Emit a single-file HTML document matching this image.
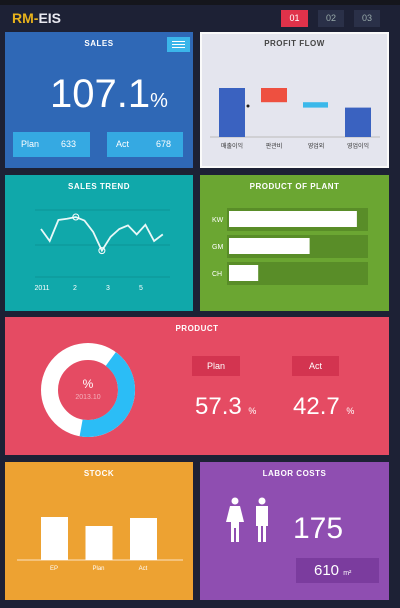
<!DOCTYPE html>
<html><head><meta charset="utf-8"><style>
*{margin:0;padding:0;box-sizing:border-box}
body{width:400px;height:608px;background:#1d2135;font-family:"Liberation Sans","Noto Sans CJK KR",sans-serif;position:relative;overflow:hidden;color:#fff}
.a{position:absolute}
.p{position:absolute}
.t{position:absolute;left:0;right:0;text-align:center;font-size:8px;font-weight:bold;top:7px;letter-spacing:0.5px}
</style></head><body>
<div class="a" style="left:0;top:0;width:400px;height:5px;background:#15161c"></div>
<div class="a" style="left:12px;top:10px;font-size:14px;font-weight:bold;color:#e8e8f0"><span style="color:#e8b21c">RM-</span>EIS</div>
<div class="a" style="left:281px;top:10px;width:27px;height:17px;background:#e0324a;font-size:9px;text-align:center;line-height:17px">01</div>
<div class="a" style="left:318px;top:10px;width:26px;height:17px;background:#2a3048;color:#9aa;font-size:9px;text-align:center;line-height:17px">02</div>
<div class="a" style="left:354px;top:10px;width:26px;height:17px;background:#2a3048;color:#9aa;font-size:9px;text-align:center;line-height:17px">03</div>

<div class="p" style="left:5px;top:32px;width:188px;height:136px;background:#2f68b6">
<div class="t">SALES</div>
<div class="a" style="left:162px;top:5px;width:23px;height:15px;background:#3bb6ea"><div style="margin:4px 5px;border-top:1px solid #fff;border-bottom:1px solid #fff;height:7px"><div style="border-top:1px solid #fff;margin-top:2px"></div></div></div>
<div class="a" style="left:45px;top:40px;font-size:40px;line-height:44px">107.1<span style="font-size:20px">%</span></div>
<div class="a" style="left:8px;top:100px;width:77px;height:25px;background:#35a9e2;font-size:9px;line-height:25px;padding-left:8px">Plan<span style="margin-left:22px">633</span></div>
<div class="a" style="left:102px;top:100px;width:76px;height:25px;background:#35a9e2;font-size:9px;line-height:25px;padding-left:9px">Act<span style="margin-left:27px">678</span></div>
</div>

<div class="p" style="left:200px;top:32px;width:189px;height:136px;background:#e4e5ee;border:2px solid #fafafa">
<div class="t" style="color:#444;top:5px">PROFIT FLOW</div>
<svg class="a" style="left:-2px;top:-2px" width="189" height="136" id="pf"></svg>
</div>

<div class="p" style="left:5px;top:175px;width:188px;height:136px;background:#10a8aa">
<div class="t">SALES TREND</div>
<svg class="a" style="left:0;top:0" width="188" height="136" id="st"></svg>
</div>

<div class="p" style="left:200px;top:175px;width:189px;height:136px;background:#6ba632">
<div class="t">PRODUCT OF PLANT</div>
<svg class="a" style="left:0;top:0" width="189" height="136" id="pp"></svg>
</div>

<div class="p" style="left:5px;top:317px;width:384px;height:138px;background:#e54b63">
<div class="t">PRODUCT</div>
<svg class="a" style="left:0;top:0" width="190" height="138" id="dn"></svg>
<div class="a" style="left:187px;top:39px;width:48px;height:20px;background:#d33450;font-size:9px;text-align:center;line-height:20px">Plan</div>
<div class="a" style="left:287px;top:39px;width:47px;height:20px;background:#d33450;font-size:9px;text-align:center;line-height:20px">Act</div>
<div class="a" style="left:190px;top:76px;font-size:24px">57.3 <span style="font-size:9px">%</span></div>
<div class="a" style="left:288px;top:76px;font-size:24px">42.7 <span style="font-size:9px">%</span></div>
</div>

<div class="p" style="left:5px;top:462px;width:188px;height:138px;background:#eda232">
<div class="t">STOCK</div>
<svg class="a" style="left:0;top:0" width="188" height="138" id="sk"></svg>
</div>

<div class="p" style="left:200px;top:462px;width:189px;height:138px;background:#8f4eb1">
<div class="t">LABOR COSTS</div>
<svg class="a" style="left:22px;top:35px" width="55" height="50">
<g fill="#fff"><circle cx="13" cy="4" r="3.5"/><path d="M8 9h10l4 16h-4l-1 0v20h-3v-14h-2v14h-3v-20h-1h-4z"/>
<circle cx="40" cy="4" r="3.5"/><path d="M34 9h12v20h-2v16h-3v-16h-2v16h-3v-16h-2z"/></g></svg>
<div class="a" style="left:93px;top:50px;font-size:30px">175</div>
<div class="a" style="left:96px;top:96px;width:83px;height:25px;background:#7b3c9e;font-size:15px;line-height:25px;padding-left:18px">610 <span style="font-size:7px">m²</span></div>
</div>

<script>
const NS='http://www.w3.org/2000/svg';
function mk(p,tag,a){const e=document.createElementNS(NS,tag);for(const k in a)e.setAttribute(k,a[k]);p.appendChild(e);return e;}
// Profit flow (waterfall)
const pfCats=['매출이익','판관비','영업외','영업이익'];
const pfStart=[0,100,71,60];
const pfEnd=[100,71,60,0];
const pfColors=['#3a62c0','#ee5040','#3bb8ea','#3a62c0'];
(function(){const s=document.getElementById('pf');const y=v=>105-v*0.49;
mk(s,'line',{x1:10,x2:180,y1:105,y2:105,stroke:'#bbb'});
pfCats.forEach((c,i)=>{const x=19+i*42;const lo=Math.min(pfStart[i],pfEnd[i]),hi=Math.max(pfStart[i],pfEnd[i]);
const r=mk(s,'rect',{x:x,y:y(hi),width:i==2?25:26,height:Math.max(4,y(lo)-y(hi)),fill:pfColors[i]});


const t=mk(s,'text',{x:x+13,y:116,'font-size':6,fill:'#333','text-anchor':'middle'});t.textContent=c;

});
mk(s,'circle',{cx:48,cy:74,r:1.5,fill:'#222'});})();
// Sales trend
const stVals=[80,60,95,97,100,94,75,44,67,80,86,71,87,60,71];
const stTicks=['2011','2','3','5'];
(function(){const s=document.getElementById('st');const x=i=>36+i*8.7;const y=v=>102-v*0.6;
[35,70,102].forEach(g=>mk(s,'line',{x1:30,x2:165,y1:g,y2:g,stroke:'#0d9395'}));
const l=mk(s,'polyline',{points:stVals.map((v,i)=>x(i)+','+y(v)).join(' '),fill:'none',stroke:'#e8f8f8','stroke-width':1.8});


mk(s,'circle',{cx:x(4),cy:y(100),r:3,fill:'none',stroke:'#fff'});
mk(s,'circle',{cx:x(7),cy:y(44),r:3,fill:'none',stroke:'#fff'});
stTicks.forEach((t,i)=>{const e=mk(s,'text',{x:37+i*33,y:115,'font-size':7,fill:'#fff','text-anchor':'middle'});e.textContent=t;

});})();
// Plant
const ppCats=['KW','GM','CH'];
const ppVals=[92,58,21];
(function(){const s=document.getElementById('pp');const tops=[34,61,88];
ppCats.forEach((c,i)=>{mk(s,'rect',{x:27,y:tops[i]-1,width:141,height:23,fill:'#598d28'});
const b=mk(s,'rect',{x:29,y:tops[i]+2,width:ppVals[i]*1.39,height:16,fill:'#fff'});


const t=mk(s,'text',{x:12,y:tops[i]+13,'font-size':7,fill:'#fff'});t.textContent=c;

});})();
// Donut
const dnVals=[57.3,42.7];
(function(){const s=document.getElementById('dn');const cx=83,cy=73,r=38.5;
mk(s,'circle',{cx,cy,r,fill:'none',stroke:'#fff','stroke-width':17});
const C=2*Math.PI*r;const a=mk(s,'circle',{cx,cy,r,fill:'none',stroke:'#2bbdf6','stroke-width':17,'stroke-dasharray':(dnVals[1]/100*C)+' '+C,transform:`rotate(-90 ${cx} ${cy}) rotate(${dnVals[0]/100*360-180+10} ${cx} ${cy})`});


const t1=mk(s,'text',{x:cx,y:cy-2,'font-size':12,fill:'#fff','text-anchor':'middle'});t1.textContent='%';
const t2=mk(s,'text',{x:cx,y:cy+9,'font-size':7,fill:'#f4b0bc','text-anchor':'middle'});t2.textContent='2013.10';})();
// Stock
const skCats=['EP','Plan','Act'];
const skVals=[43,34,42];
(function(){const s=document.getElementById('sk');const base=98;
mk(s,'line',{x1:12,x2:178,y1:base,y2:base,stroke:'#fff','stroke-opacity':0.7});
skCats.forEach((c,i)=>{const x=36+i*44.5;const b=mk(s,'rect',{x,y:base-skVals[i],width:27,height:skVals[i],fill:'#fff'});


const t=mk(s,'text',{x:x+13,y:108,'font-size':6,fill:'#fff','text-anchor':'middle'});t.textContent=c;

});})();
</script>
</body></html>
